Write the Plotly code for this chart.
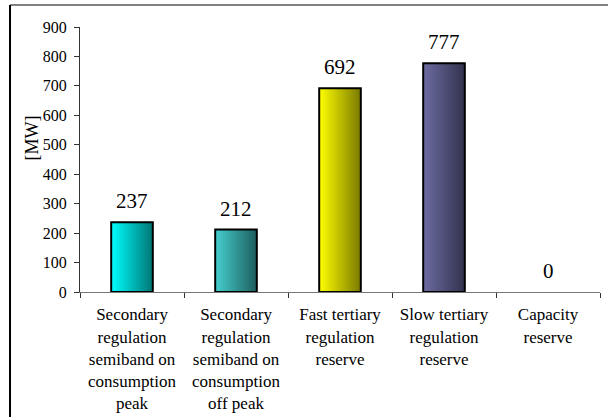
import plotly.graph_objects as go

categories = [
    "Secondary<br>regulation<br>semiband on<br>consumption<br>peak",
    "Secondary<br>regulation<br>semiband on<br>consumption<br>off peak",
    "Fast tertiary<br>regulation<br>reserve",
    "Slow tertiary<br>regulation<br>reserve",
    "Capacity<br>reserve",
]
values_mw = [237, 212, 692, 777, 0]
y_ticks = [0, 100, 200, 300, 400, 500, 600, 700, 800, 900]

light_colors = ["#00FFFF", "#45CFCF", "#FFFF00", "#6C6CA2"]
dark_colors = ["#007575", "#1E5E5E", "#7A7A00", "#32324E"]

FONT = "Liberation Serif"
BAR_W = 0.4

fig = go.Figure()
idx = list(range(len(categories)))
for i, v in zip(idx, values_mw):
    if v <= 0:
        continue
    c0 = light_colors[i % len(light_colors)]
    c1 = dark_colors[i % len(dark_colors)]
    fig.add_trace(go.Scatter(
        x=[i - BAR_W / 2, i + BAR_W / 2, i + BAR_W / 2, i - BAR_W / 2, i - BAR_W / 2],
        y=[0, 0, v, v, 0],
        mode="lines",
        fill="toself",
        fillgradient=dict(type="horizontal", colorscale=[[0, c0], [1, c1]]),
        line=dict(color="black", width=2),
        hoverinfo="skip",
        showlegend=False,
    ))

for i, v in zip(idx, values_mw):
    fig.add_annotation(
        x=i, y=v, text=str(v), showarrow=False,
        xanchor="center", yanchor="bottom", yshift=7,
        font=dict(family=FONT, size=21, color="black"),
    )

# y-axis title
fig.add_annotation(
    xref="paper", yref="paper", x=-0.092, y=0.58,
    text="[MW]", textangle=-90, showarrow=False,
    xanchor="center", yanchor="middle",
    font=dict(family=FONT, size=18, color="black"),
)

# outer frame (top grey, left black)
fig.add_shape(type="line", xref="paper", yref="paper",
              x0=-0.1346, x1=1.1, y0=1.083, y1=1.083,
              line=dict(color="#808080", width=2))
fig.add_shape(type="line", xref="paper", yref="paper",
              x0=-0.1346, x1=-0.1346, y0=1.083, y1=-0.6,
              line=dict(color="black", width=2))

fig.update_layout(
    width=608, height=417,
    margin=dict(l=80, r=8, t=27, b=125),
    paper_bgcolor="white", plot_bgcolor="white",
    font=dict(family=FONT, color="black"),
    showlegend=False,
    xaxis=dict(
        range=[-0.5, len(categories) - 0.5],
        tickmode="array", tickvals=idx, ticktext=categories,
        ticks="outside", ticklen=7, tickcolor="rgba(0,0,0,0)",
        tickfont=dict(family=FONT, size=17, color="black"),
        showline=True, linecolor="#777777", linewidth=1,
        showgrid=False, zeroline=False, fixedrange=True, automargin=False,
        minor=dict(tickmode="array",
                   tickvals=[i - 0.5 for i in range(len(categories) + 1)],
                   ticks="outside", ticklen=5, tickcolor="#333333", showgrid=False),
    ),
    yaxis=dict(
        range=[0, 900],
        tickmode="array", tickvals=y_ticks,
        ticks="outside", ticklen=5, tickcolor="#333333",
        tickfont=dict(family=FONT, size=16, color="black"),
        ticklabelstandoff=4,
        showline=True, linecolor="#333333", linewidth=1,
        showgrid=False, zeroline=False, fixedrange=True, automargin=False,
    ),
)

fig.write_html(
    "out.html",
    config={"displayModeBar": False},
    post_script="document.body.style.margin='0px';document.body.style.overflow='hidden';",
)
